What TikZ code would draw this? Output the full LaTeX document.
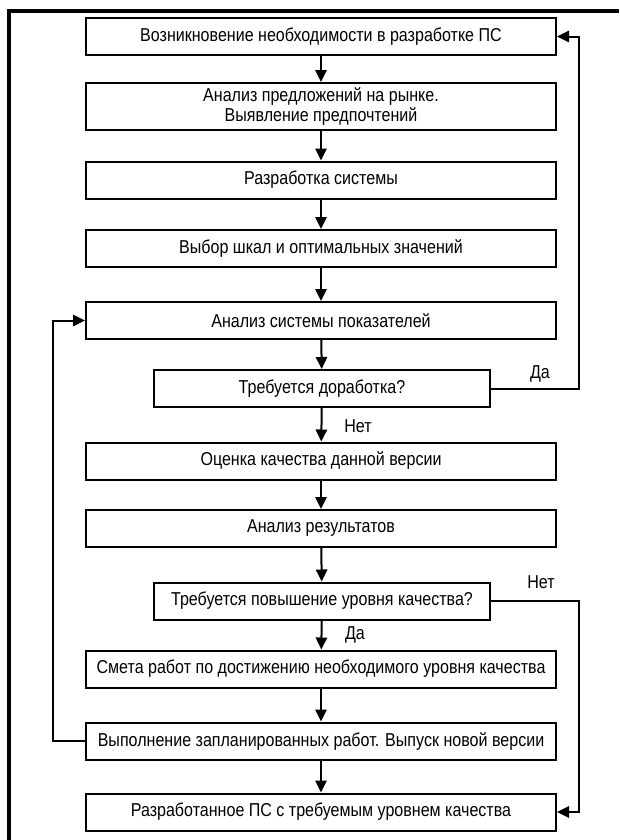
\documentclass[tikz,border=0pt]{standalone}
\usepackage{fontspec}
\setmainfont{Liberation Sans}[FakeStretch=0.86]
\usetikzlibrary{arrows.meta}
\begin{document}
\begin{tikzpicture}[x=0.75pt,y=-0.75pt,
  box/.style={draw,line width=1.5pt,minimum width=352.5pt,minimum height=27.75pt,inner sep=0pt,align=center,font=\fontsize{14}{15.5}\selectfont},
  qbox/.style={box,minimum width=252pt},
  arr/.style={line width=1.5pt,-{Triangle[length=9pt,width=8.5pt]}},
  lbl/.style={font=\fontsize{14}{15.5}\selectfont,inner sep=1pt}]
\useasboundingbox (0,0) rectangle (619,840);
\draw[line width=3pt] (9,840)--(9,11)--(619,11);
\node[box] (n1) at (321,36.5) {Возникновение необходимости в разработке ПС};
\node[box,minimum height=35.25pt] (n2) at (321,106.5) {Анализ предложений на рынке.\\Выявление предпочтений};
\node[box] (n3) at (321,180) {Разработка системы};
\node[box] (n4) at (321,248.5) {Выбор шкал и оптимальных значений};
\node[box] (n5) at (321,320.5) {Анализ системы показателей};
\node[qbox] (n6) at (322,388.5) {Требуется доработка?};
\node[box] (n7) at (321,461) {Оценка качества данной версии};
\node[box] (n8) at (321,528.5) {Анализ результатов};
\node[qbox] (n9) at (322,601) {Требуется повышение уровня качества?};
\node[box] (n10) at (321,669) {Смета работ по достижению необходимого уровня качества};
\node[box] (n11) at (321,741) {Выполнение запланированных работ. Выпуск новой версии};
\node[box] (n12) at (321,812) {Разработанное ПС с требуемым уровнем качества};
\draw[arr] (n1)--(n2);
\draw[arr] (n2)--(n3);
\draw[arr] (n3)--(n4);
\draw[arr] (n4)--(n5);
\draw[arr] (n5)--(n6);
\draw[arr] (n6)--(n7);
\draw[arr] (n7)--(n8);
\draw[arr] (n8)--(n9);
\draw[arr] (n9)--(n10);
\draw[arr] (n10)--(n11);
\draw[arr] (n11)--(n12);
\draw[arr] (n6.east)--++(88,0)|-(n1.east);
\draw[arr] (n9.east)--++(88,0)|-(n12.east);
\draw[arr] (n11.west)--++(-32,0)|-(n5.west);
\node[lbl] (yes1) at (540,374) {Да};
\node[lbl] (no1) at (358,426) {Нет};
\node[lbl] (no2) at (541,582) {Нет};
\node[lbl] (yes2) at (355,635) {Да};
\end{tikzpicture}
\end{document}
